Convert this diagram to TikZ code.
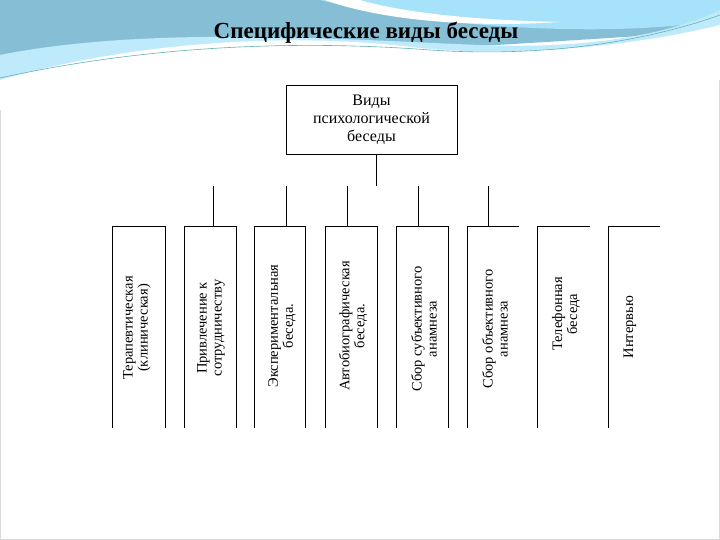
\documentclass[tikz,border=0pt]{standalone}
\usepackage{fontspec}
\setmainfont{Liberation Serif}
\begin{document}
\begin{tikzpicture}[x=1pt,y=-1pt,
  vbox/.style={draw=none,rotate=90,align=center,font=\fontsize{14.5}{15}\selectfont,inner sep=0pt},
  ln/.style={line width=0.8pt}]
\useasboundingbox (0,0) rectangle (720,540);
\fill[white] (0,0) rectangle (720,540);
\draw[gray!30] (0.5,0.5) rectangle (719.5,539.5);
% waves
\fill[cyan!40!teal!55] (0,0) -- (720,0) -- (720,30) .. controls (600,40) and (400,50) .. (0,75) -- cycle;
\fill[cyan!35] (320,0) .. controls (420,25) and (600,40) .. (720,20) -- (720,0) -- cycle;
\fill[white] (325,0) .. controls (380,20) and (470,28) .. (560,22) .. controls (470,20) and (400,12) .. (360,0) -- cycle;
\fill[cyan!25] (0,55) .. controls (150,25) and (350,40) .. (480,45) .. controls (600,50) and (680,30) .. (720,10) -- (720,40) .. controls (600,60) and (350,55) .. (0,80) -- cycle;
\fill[white] (0,80) .. controls (120,45) and (280,30) .. (420,48) .. controls (520,58) and (640,45) .. (720,25) -- (720,75) -- (0,110) -- cycle;
\draw[teal!60,line width=0.6pt] (0,78) .. controls (150,45) and (300,40) .. (430,50) .. controls (550,58) and (650,40) .. (720,15);
\fill[white] (0,95) .. controls (200,70) and (500,70) .. (720,50) -- (720,80) -- (0,110) -- cycle;
\node (title) at (366,33) {\fontsize{23}{24}\selectfont\bfseries Специфические виды беседы};
% top box
\node[draw,ln,minimum width=171pt,minimum height=69pt,align=center,font=\fontsize{16}{18}\selectfont,inner sep=0pt] (top) at (371.5,119.5) {Виды\\психологической\\беседы};
\coordinate (s) at (376,186);
\draw[ln] (top.south -| s) -- (s);
% boxes
\foreach \n/\l/\r/\rs in {1/112/165/1,2/184/236/1,3/254/305/1,4/325/377/1,5/396/448/1,6/467/519/0,7/537/590/0,8/608/660/0}{
  \coordinate (tl\n) at (\l,226); \coordinate (tr\n) at (\r,226);
  \coordinate (bl\n) at (\l,428); \coordinate (br\n) at (\r,428);
  \draw[ln] (bl\n) -- (tl\n) -- (tr\n);
  \ifnum\rs=1 \draw[ln] (tr\n) -- (br\n); \fi
}
\foreach \x/\n in {213/2,286/3,347/4,418/5,488/6}{
  \coordinate (u\n) at (\x,186);
  \draw[ln] (u\n) -- (u\n |- tl\n);
}
\node[vbox] (b1) at (137,328) {Терапевтическая\\(клиническая)};
\node[vbox] (b2) at (211,328) {Привлечение к\\сотрудничеству};
\node[vbox] (b3) at (282,326) {Экспериментальная\\беседа.};
\node[vbox] (b4) at (353,326) {Автобиографическая\\беседа.};
\node[vbox] (b5) at (424,329) {Сбор субъективного\\анамнеза};
\node[vbox] (b6) at (495,329) {Сбор объективного\\анамнеза};
\node[vbox] (b7) at (566,314) {Телефонная\\беседа};
\node[vbox] (b8) at (630,327) {Интервью};
\end{tikzpicture}
\end{document}
